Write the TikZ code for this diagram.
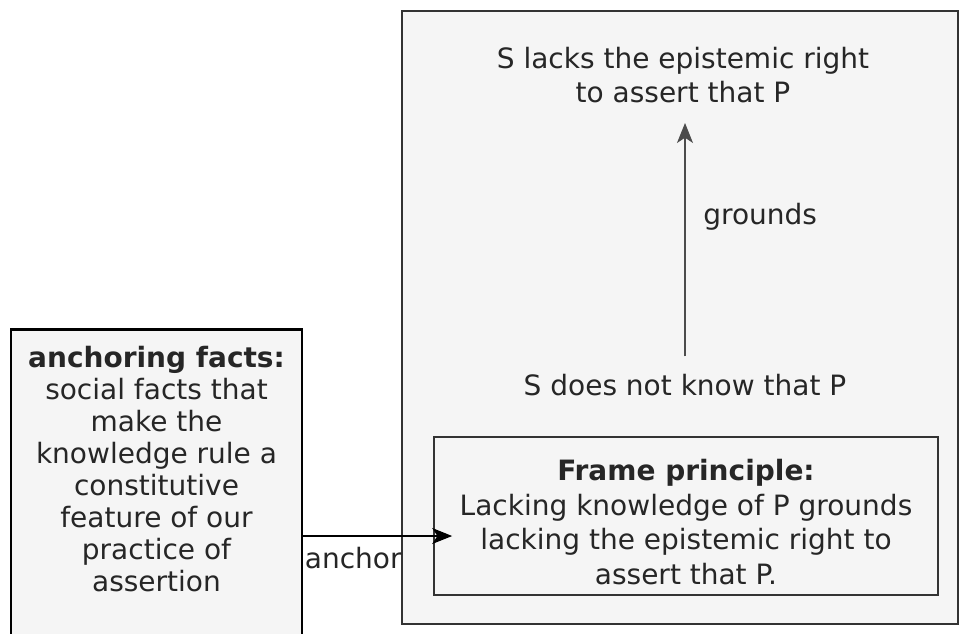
\documentclass[tikz,border=0pt]{standalone}
\usepackage{fontspec}
\setmainfont{DejaVu Sans}
\usepackage{tikz}
\usetikzlibrary{arrows.meta}

\begin{document}
\begin{tikzpicture}[x=0.75pt, y=-0.75pt,
		every node/.style={font=\fontsize{21}{24}\selectfont, align=center, text=black!85},
		panel/.style={draw=black!80, fill=black!4, line width=.8},
		thickpanel/.style={draw=black, fill=black!4, line width=1.9},
		link/.style={-{Stealth[length=15pt, width=12pt, inset=4pt]}, line width=.8}]
	\def\dscale{0.75}
	\useasboundingbox (0,0) rectangle (961,633);
	\clip (0,0) rectangle (961,633);
	
	% outer panel holding the grounding relation
	\node[panel, minimum width={\dscale*556pt}, minimum height={\dscale*613pt}, inner sep=0] (frame) at (680,317.5) {};
	\node[panel, minimum width={\dscale*504pt}, minimum height={\dscale*158pt}, inner sep=0] (principle) at (686,516) {};
	\node (principletext) at (686,522) [font=\fontsize{21}{26}\selectfont] {\textbf{Frame principle:}\\ Lacking knowledge of P grounds\\ lacking the epistemic right to\\ assert that P.};
	
	% left panel, runs past the bottom edge
	\node[thickpanel, minimum width={\dscale*291pt}, minimum height={\dscale*360pt}, inner sep=0, anchor=north] (facts) at (156.5,328) {};
	\node (factstext) at (156.5,469) {\textbf{anchoring facts:}\\ social facts that\\ make the\\ knowledge rule a\\ constitutive\\ feature of our\\ practice of\\ assertion};
	
	% the two statements
	\node (lacks) at (683,75) [font=\fontsize{21}{25}\selectfont] {S lacks the epistemic right\\ to assert that P};
	\node (know) at (685,385) {S does not know that P};
	
	\draw[link, black!70] (know.north) ++(0,-13) coordinate (groundfoot) -- (groundfoot |- 0,123) coordinate (groundtip)
		node[pos=.6, right=10pt, black!85] {grounds};
	
	\coordinate (anchorrow) at (0,536);
	\draw[link] (facts.east |- anchorrow) -- ([xshift=14pt]principle.west |- anchorrow);
	\node[anchor=north west, inner xsep=1pt, inner ysep=2pt] (anchorlabel) at ([yshift=-6pt]facts.east |- anchorrow) {anchor};
\end{tikzpicture}
\end{document}
